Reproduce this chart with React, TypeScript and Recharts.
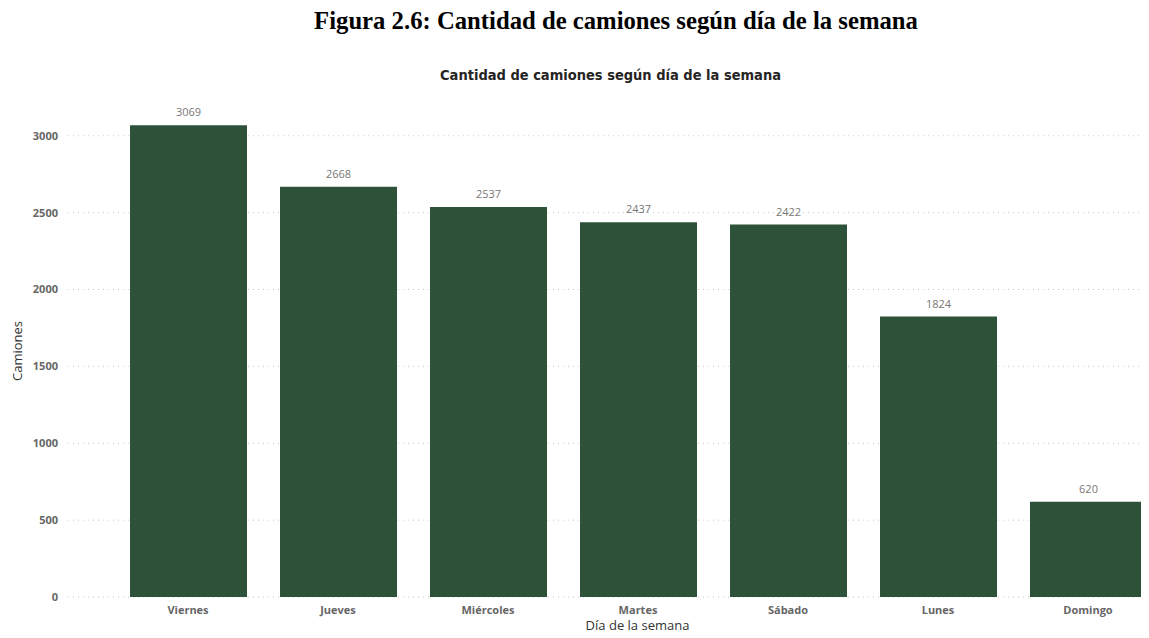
import { BarChart, Bar, XAxis, YAxis, CartesianGrid, LabelList, Label } from "recharts";

const dias = ["Viernes", "Jueves", "Miércoles", "Martes", "Sábado", "Lunes", "Domingo"];
const camiones = [3069, 2668, 2537, 2437, 2422, 1824, 620];
const yTicks = [0, 500, 1000, 1500, 2000, 2500, 3000];

const data = dias.map((dia, i) => ({ dia, camiones: camiones[i] }));

const BAR_COLOR = "#2E5239";
const TICK_STYLE = { fontFamily: "Open Sans", fontSize: 11, fontWeight: 700, fill: "#666666" };

const App = () => {
  return (
    <div style={{ position: "relative", width: 1149, height: 638, margin: -8, overflow: "hidden", background: "#fff" }}>
      <div
        style={{
          position: "absolute",
          top: 6,
          left: 0,
          width: 1232,
          textAlign: "center",
          fontFamily: "Liberation Serif",
          fontWeight: 700,
          fontSize: 26,
          lineHeight: "30px",
          color: "#000",
          transform: "scaleX(0.95)",
          transformOrigin: "616px 0",
        }}
      >
        Figura 2.6: Cantidad de camiones según día de la semana
      </div>
      <div
        style={{
          position: "absolute",
          top: 66,
          left: 0,
          width: 1221,
          textAlign: "center",
          fontFamily: "DejaVu Sans Condensed",
          fontWeight: 700,
          fontSize: 14.5,
          lineHeight: "18px",
          color: "#252423",
        }}
      >
        Cantidad de camiones según día de la semana
      </div>
      <div style={{ position: "absolute", top: 0, left: 0 }}>
        <BarChart
          width={1163}
          height={638}
          data={data}
          margin={{ top: 105, right: 0, bottom: 0, left: 0 }}
          barSize={117}
        >
          <CartesianGrid vertical={false} stroke="#C8C8C8" strokeDasharray="1 4" syncWithTicks />
          <XAxis
            dataKey="dia"
            height={41}
            padding={{ left: 45, right: 0 }}
            tickLine={false}
            axisLine={false}
            tickSize={0}
            tickMargin={9}
            tick={TICK_STYLE}
            interval={0}
          >
            <Label
              value="Día de la semana"
              position="insideBottom"
              offset={8}
              dx={22}
              style={{ fontFamily: "Open Sans", fontSize: 13, fill: "#333333" }}
            />
          </XAxis>
          <YAxis
            width={68}
            domain={[0, 3200]}
            ticks={yTicks}
            tickLine={false}
            axisLine={false}
            tickSize={0}
            tickMargin={10}
            tick={TICK_STYLE}
          >
            <Label
              value="Camiones"
              angle={-90}
              position="insideLeft"
              offset={17}
              style={{ fontFamily: "Open Sans", fontSize: 13, fill: "#333333", textAnchor: "middle" }}
            />
          </YAxis>
          <Bar dataKey="camiones" fill={BAR_COLOR} isAnimationActive={false}>
            <LabelList
              dataKey="camiones"
              position="top"
              offset={9}
              style={{ fontFamily: "Open Sans", fontSize: 11, fill: "#777777" }}
            />
          </Bar>
        </BarChart>
      </div>
    </div>
  );
};

export default App;
